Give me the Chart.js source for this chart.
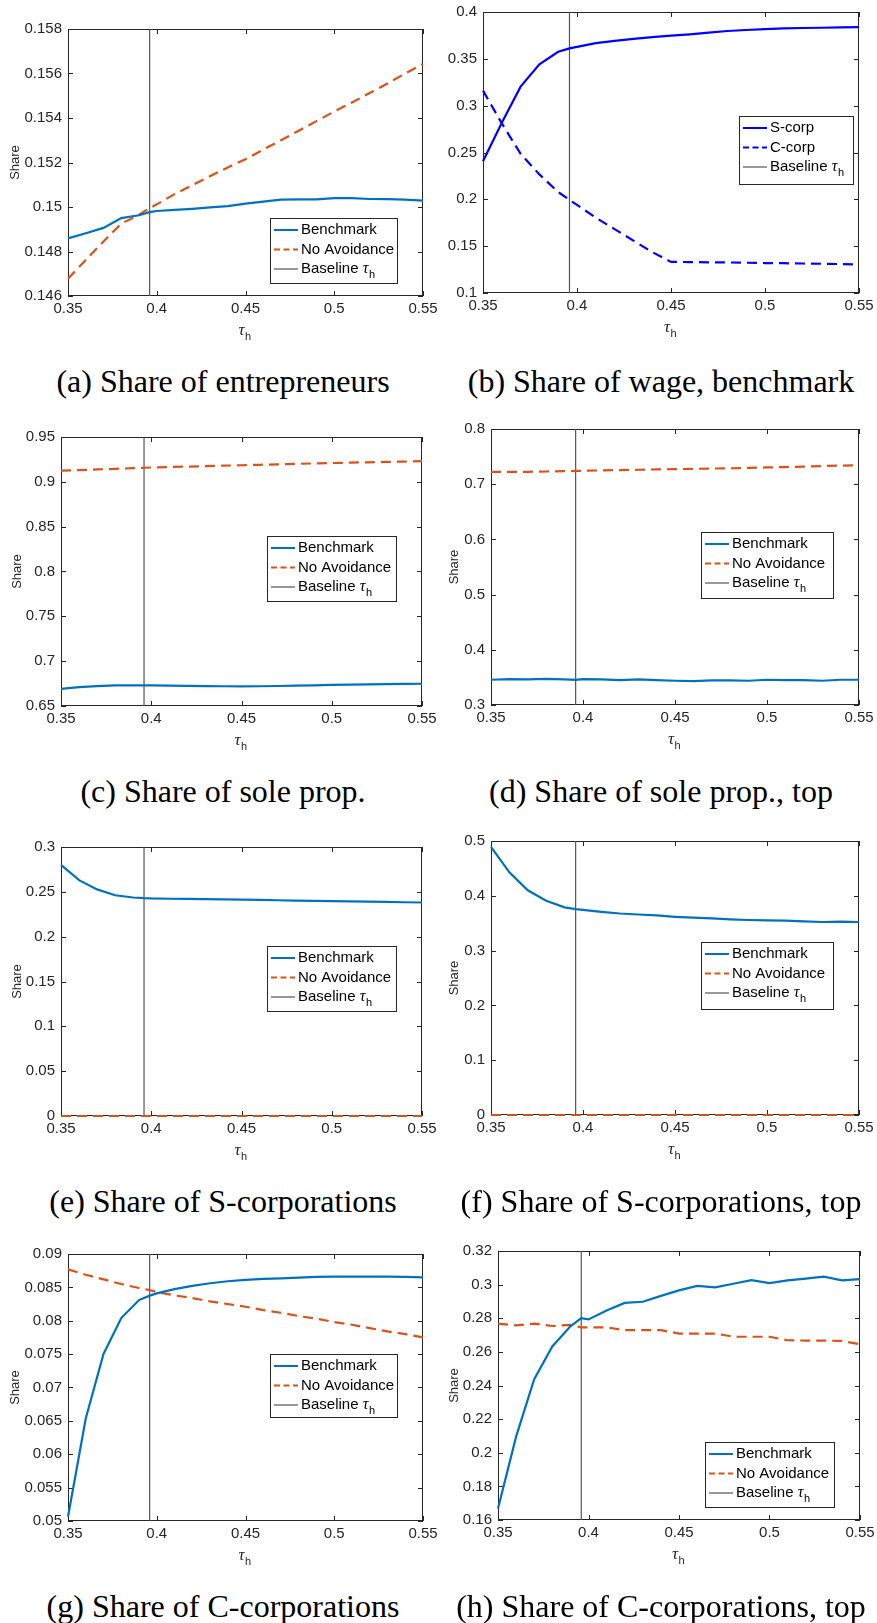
<!DOCTYPE html>
<html>
<head>
<meta charset="utf-8">
<script src="https://cdn.jsdelivr.net/npm/chart.js@4.4.0/dist/chart.umd.min.js"></script>
<style>
html, body { margin: 0; padding: 0; background: #fff; }
#page { position: relative; width: 877px; height: 1623px; overflow: hidden; background: #fff; }
.panel { position: absolute; }
.caption { position: absolute; font-family: "Liberation Serif", "Times New Roman", serif; font-size: 32px; line-height: 1; color: #000; white-space: nowrap; transform: translate(-50%, -50%); }
</style>
</head>
<body>
<div id="page"></div>
<script>
// tau_h grid (the baseline 0.396 is one of the grid points)
const tau = [0.35, 0.36, 0.37, 0.38, 0.39, 0.396, 0.40, 0.41, 0.42, 0.43, 0.44, 0.45, 0.46, 0.47, 0.48, 0.49, 0.50, 0.51, 0.52, 0.53, 0.54, 0.55];
const baselineTau = 0.396;
const xTicks = [0.35, 0.4, 0.45, 0.5, 0.55];

// (a) share of entrepreneurs
const entreBench = [0.14859, 0.14882, 0.14906, 0.14950, 0.14963, 0.14977, 0.14982, 0.14987, 0.14992, 0.14998, 0.15004, 0.15015, 0.15024, 0.15033, 0.15034, 0.15034, 0.15040, 0.15040, 0.15036, 0.15035, 0.15033, 0.15029];
const entreNoAvoid = [0.14678, 0.14762, 0.14845, 0.14925, 0.14965, 0.14995, 0.15012, 0.15058, 0.15098, 0.15138, 0.15178, 0.15215, 0.15258, 0.15300, 0.15343, 0.15386, 0.15429, 0.15470, 0.15512, 0.15555, 0.15600, 0.15643];
const entreTicks = [0.146, 0.148, 0.15, 0.152, 0.154, 0.156, 0.158];

// (b) share of wage, benchmark
const wageScorp = [0.2406, 0.2818, 0.3203, 0.3441, 0.3575, 0.3612, 0.3628, 0.3668, 0.3692, 0.3713, 0.3731, 0.3748, 0.3762, 0.3780, 0.3797, 0.3808, 0.3818, 0.3825, 0.3829, 0.3832, 0.3836, 0.3839];
const wageCcorp = [0.3161, 0.2811, 0.2486, 0.2266, 0.2077, 0.1995, 0.1940, 0.1804, 0.1682, 0.1559, 0.1437, 0.1332, 0.1330, 0.1328, 0.1326, 0.1323, 0.1320, 0.1318, 0.1315, 0.1312, 0.1309, 0.1305];
const wageTicks = [0.1, 0.15, 0.2, 0.25, 0.3, 0.35, 0.4];

// (c) share of sole prop.
const soleBench = [0.6690, 0.6710, 0.6722, 0.6729, 0.6731, 0.6731, 0.6730, 0.6728, 0.6725, 0.6722, 0.6720, 0.6719, 0.6720, 0.6723, 0.6727, 0.6731, 0.6735, 0.6738, 0.6741, 0.6744, 0.6746, 0.6748];
const soleNoAvoid = [0.9124, 0.9131, 0.9138, 0.9145, 0.9152, 0.9157, 0.9160, 0.9165, 0.9170, 0.9175, 0.9180, 0.9185, 0.9190, 0.9195, 0.9200, 0.9205, 0.9210, 0.9214, 0.9218, 0.9222, 0.9226, 0.9230];
const soleTicks = [0.65, 0.7, 0.75, 0.8, 0.85, 0.9, 0.95];

// (d) share of sole prop., top
const soleTopBench = [0.3457, 0.3469, 0.3463, 0.3475, 0.3463, 0.3457, 0.3469, 0.3463, 0.3451, 0.3463, 0.3451, 0.3439, 0.3433, 0.3445, 0.3445, 0.3439, 0.3457, 0.3451, 0.3451, 0.3439, 0.3457, 0.3457];
const soleTopNoAvoid = [0.7222, 0.7224, 0.7225, 0.7230, 0.7236, 0.7240, 0.7244, 0.7250, 0.7256, 0.7262, 0.7268, 0.7273, 0.7278, 0.7283, 0.7289, 0.7295, 0.7303, 0.7311, 0.7319, 0.7328, 0.7337, 0.7345];
const soleTopTicks = [0.3, 0.4, 0.5, 0.6, 0.7, 0.8];

// (e) share of S-corporations
const scorpBench = [0.2800, 0.2630, 0.2527, 0.2462, 0.2437, 0.2429, 0.2426, 0.2423, 0.2421, 0.2419, 0.2417, 0.2414, 0.2410, 0.2406, 0.2403, 0.2399, 0.2396, 0.2393, 0.2390, 0.2387, 0.2384, 0.2381];
const scorpNoAvoid = [0, 0, 0, 0, 0, 0, 0, 0, 0, 0, 0, 0, 0, 0, 0, 0, 0, 0, 0, 0, 0, 0];
const scorpTicks = [0, 0.05, 0.1, 0.15, 0.2, 0.25, 0.3];

// (f) share of S-corporations, top
const scorpTopBench = [0.4893, 0.4428, 0.4100, 0.3910, 0.3790, 0.3757, 0.3743, 0.3707, 0.3677, 0.3659, 0.3641, 0.3617, 0.3600, 0.3588, 0.3570, 0.3558, 0.3552, 0.3546, 0.3534, 0.3522, 0.3528, 0.3522];
const scorpTopNoAvoid = [0, 0, 0, 0, 0, 0, 0, 0, 0, 0, 0, 0, 0, 0, 0, 0, 0, 0, 0, 0, 0, 0];
const scorpTopTicks = [0, 0.1, 0.2, 0.3, 0.4, 0.5];

// (g) share of C-corporations
const ccorpBench = [0.05064, 0.06536, 0.07502, 0.0804, 0.0831, 0.08376, 0.0841, 0.08474, 0.08523, 0.08562, 0.08592, 0.08612, 0.08626, 0.08636, 0.08646, 0.08656, 0.0866, 0.08662, 0.08662, 0.0866, 0.08658, 0.0865];
const ccorpNoAvoid = [0.0877, 0.0869, 0.0862, 0.0855, 0.0849, 0.0846, 0.0843, 0.0838, 0.0834, 0.0829, 0.0825, 0.0821, 0.0816, 0.0812, 0.0807, 0.0803, 0.0798, 0.0794, 0.0789, 0.0784, 0.0780, 0.0775];
const ccorpTicks = [0.05, 0.055, 0.06, 0.065, 0.07, 0.075, 0.08, 0.085, 0.09];

// (h) share of C-corporations, top
const ccorpTopBench = [0.1668, 0.2096, 0.2437, 0.2632, 0.2752, 0.2801, 0.2793, 0.2846, 0.2891, 0.2898, 0.2933, 0.2966, 0.2992, 0.2984, 0.3005, 0.3027, 0.3009, 0.3025, 0.3036, 0.3048, 0.3025, 0.3033];
const ccorpTopNoAvoid = [0.2768, 0.2758, 0.2768, 0.2754, 0.2760, 0.2746, 0.2745, 0.2746, 0.2729, 0.2729, 0.2729, 0.2709, 0.2709, 0.2709, 0.2690, 0.2690, 0.2690, 0.2669, 0.2667, 0.2667, 0.2665, 0.2645];
const ccorpTopTicks = [0.16, 0.18, 0.2, 0.22, 0.24, 0.26, 0.28, 0.3, 0.32];

const BLUE = '#0072BD', ORANGE = '#D95319', PURE_BLUE = '#0000FF', VLINE = '#555555';
const AXIS = '#262626';
const SANS = '"Liberation Sans", Arial, Helvetica, sans-serif';
const SERIF = '"Liberation Serif", "Times New Roman", serif';

const stdSeries = (bench, noAvoid) => [
    { label: 'Benchmark', values: bench, color: BLUE, dashed: false },
    { label: 'No Avoidance', values: noAvoid, color: ORANGE, dashed: true }
];

// page layout: plot area [left, top, right, bottom] and legend box [x, y, w, h] in page pixels
const panels = [
    { col: 0,   area: [68, 24, 423, 296],    yTicks: entreTicks,    series: stdSeries(entreBench, entreNoAvoid), ylabelX: 15,  legend: [270, 218, 127, 65],  caption: '(a) Share of entrepreneurs', capX: 223, capY: 381 },
    { col: 437, area: [483, 7, 859, 293],    yTicks: wageTicks,     series: [
        { label: 'S-corp', values: wageScorp, color: PURE_BLUE, dashed: false },
        { label: 'C-corp', values: wageCcorp, color: PURE_BLUE, dashed: true }
      ], ylabelX: null, legend: [739, 116, 114, 68], caption: '(b) Share of wage, benchmark', capX: 661, capY: 381 },
    { col: 0,   area: [61, 432, 422, 706],   yTicks: soleTicks,     series: stdSeries(soleBench, soleNoAvoid), ylabelX: 17,  legend: [267, 536, 129, 65],  caption: '(c) Share of sole prop.', capX: 223, capY: 791 },
    { col: 437, area: [491, 424, 859, 705],  yTicks: soleTopTicks,  series: stdSeries(soleTopBench, soleTopNoAvoid), ylabelX: 454, legend: [701, 532, 132, 66], caption: '(d) Share of sole prop., top', capX: 661, capY: 791 },
    { col: 0,   area: [61, 842, 422, 1116],  yTicks: scorpTicks,    series: stdSeries(scorpBench, scorpNoAvoid), ylabelX: 17,  legend: [267, 946, 129, 65],  caption: '(e) Share of S-corporations', capX: 223, capY: 1201 },
    { col: 437, area: [491, 836, 859, 1115], yTicks: scorpTopTicks, series: stdSeries(scorpTopBench, scorpTopNoAvoid), ylabelX: 454, legend: [701, 942, 132, 67], caption: '(f) Share of S-corporations, top', capX: 661, capY: 1201 },
    { col: 0,   area: [68, 1249, 423, 1521], yTicks: ccorpTicks,    series: stdSeries(ccorpBench, ccorpNoAvoid), ylabelX: 15,  legend: [270, 1354, 127, 63], caption: '(g) Share of C-corporations', capX: 223, capY: 1606 },
    { col: 437, area: [498, 1246, 860, 1520], yTicks: ccorpTopTicks, series: stdSeries(ccorpTopBench, ccorpTopNoAvoid), ylabelX: 454, legend: [705, 1442, 129, 65], caption: '(h) Share of C-corporations, top', capX: 661, capY: 1606 }
];

const PAD_TOP = 10, PAD_RIGHT = 20, X_AXIS_H = 50, TICK_LEN = 5;
const LINE_DASH = [10, 6];

Chart.defaults.font.family = SANS;
Chart.defaults.color = AXIS;

// tau with subscript h
function drawTauH(ctx, x, y, tauSize, subSize, color) {
    ctx.fillStyle = color;
    ctx.textBaseline = 'middle';
    ctx.textAlign = 'left';
    ctx.font = `italic ${tauSize}px ${SERIF}`;
    ctx.fillText('\u03C4', x, y);
    const w = ctx.measureText('\u03C4').width;
    ctx.font = `${subSize}px ${SANS}`;
    ctx.fillText('h', x + w + 0.5, y + 6);
}

const framePlugin = {
    id: 'matlabFrame',
    beforeDatasetsDraw(chart) {
        const { ctx, chartArea: a, scales: { x, y } } = chart;
        ctx.save();
        ctx.strokeStyle = AXIS;
        ctx.lineWidth = 1;
        ctx.strokeRect(a.left + 0.5, a.top + 0.5, a.right - a.left - 1, a.bottom - a.top - 1);
        ctx.beginPath();
        x.ticks.forEach(t => {
            const px = Math.round(x.getPixelForValue(t.value)) + 0.5;
            ctx.moveTo(px, a.bottom); ctx.lineTo(px, a.bottom - TICK_LEN);
            ctx.moveTo(px, a.top); ctx.lineTo(px, a.top + TICK_LEN);
        });
        y.ticks.forEach(t => {
            const py = Math.round(y.getPixelForValue(t.value)) + 0.5;
            ctx.moveTo(a.left, py); ctx.lineTo(a.left + TICK_LEN, py);
            ctx.moveTo(a.right, py); ctx.lineTo(a.right - TICK_LEN, py);
        });
        ctx.stroke();
        ctx.restore();
    },
    afterDraw(chart) {
        const { ctx, chartArea: a } = chart;
        const p = chart.options.plugins.matlabFrame;
        ctx.save();
        // x-axis label
        const cx = (a.left + a.right) / 2;
        drawTauH(ctx, cx - 7, a.bottom + 35, 17, 11, AXIS);

        // legend box
        const [lx, ly, lw, lh] = p.legend;
        ctx.fillStyle = '#fff';
        ctx.fillRect(lx, ly, lw, lh);
        ctx.strokeStyle = AXIS;
        ctx.lineWidth = 1;
        ctx.strokeRect(lx + 0.5, ly + 0.5, lw, lh);
        const rows = p.series.map(s => ({ label: s.label, color: s.color, dashed: s.dashed, width: 2 }));
        rows.push({ label: 'Baseline', color: VLINE, dashed: false, width: 1.2, tau: true });
        rows.forEach((r, i) => {
            const ry = ly + 12 + i * 19.5;
            ctx.beginPath();
            ctx.strokeStyle = r.color;
            ctx.lineWidth = r.width;
            ctx.setLineDash(r.dashed ? [6, 3.5] : []);
            ctx.moveTo(lx + 4, ry); ctx.lineTo(lx + 28, ry);
            ctx.stroke();
            ctx.setLineDash([]);
            ctx.fillStyle = '#000';
            ctx.font = `15px ${SANS}`;
            ctx.textAlign = 'left';
            ctx.textBaseline = 'middle';
            ctx.fillText(r.label, lx + 31, ry);
            if (r.tau) {
                const w = ctx.measureText(r.label + ' ').width;
                drawTauH(ctx, lx + 31 + w, ry, 16, 11, '#000');
            }
        });
        ctx.restore();
    }
};

const page = document.getElementById('page');

panels.forEach(p => {
    const [l, t, r, b] = p.area;
    const canvasLeft = p.col;
    const canvasTop = t - PAD_TOP;
    const w = r + PAD_RIGHT - canvasLeft;
    const h = b - t + PAD_TOP + X_AXIS_H;

    const div = document.createElement('div');
    div.className = 'panel';
    div.style.left = canvasLeft + 'px';
    div.style.top = canvasTop + 'px';
    div.style.width = w + 'px';
    div.style.height = h + 'px';
    const canvas = document.createElement('canvas');
    canvas.width = w;
    canvas.height = h;
    canvas.style.width = w + 'px';
    canvas.style.height = h + 'px';
    div.appendChild(canvas);
    page.appendChild(div);

    const cap = document.createElement('div');
    cap.className = 'caption';
    cap.style.left = p.capX + 'px';
    cap.style.top = p.capY + 'px';
    cap.textContent = p.caption;
    page.appendChild(cap);

    const yMin = p.yTicks[0], yMax = p.yTicks[p.yTicks.length - 1];
    const datasets = p.series.map(s => ({
        label: s.label,
        data: tau.map((x, i) => ({ x, y: s.values[i] })),
        borderColor: s.color,
        borderWidth: 2.2,
        borderDash: s.dashed ? LINE_DASH : [],
        pointRadius: 0,
        tension: 0,
        fill: false,
        clip: false
    }));
    datasets.push({
        label: 'Baseline',
        data: [{ x: baselineTau, y: yMin }, { x: baselineTau, y: yMax }],
        borderColor: VLINE,
        borderWidth: 1.2,
        pointRadius: 0,
        fill: false
    });

    const titleLH = 13 * 1.2;
    new Chart(canvas, {
        type: 'line',
        data: { datasets },
        options: {
            responsive: false,
            animation: false,
            events: [],
            layout: { padding: { top: PAD_TOP, right: PAD_RIGHT, left: 0, bottom: 0 } },
            scales: {
                x: {
                    type: 'linear', min: 0.35, max: 0.55,
                    afterBuildTicks: s => { s.ticks = xTicks.map(v => ({ value: v })); },
                    afterFit: s => { s.height = X_AXIS_H; },
                    grid: { display: false, drawTicks: false },
                    border: { display: false },
                    ticks: { padding: 4, autoSkip: false, maxRotation: 0, color: AXIS, font: { size: 15 }, callback: v => String(v) }
                },
                y: {
                    type: 'linear', min: yMin, max: yMax,
                    afterBuildTicks: s => { s.ticks = p.yTicks.map(v => ({ value: v })); },
                    afterFit: s => { s.width = l - canvasLeft; },
                    grid: { display: false, drawTicks: false },
                    border: { display: false },
                    ticks: { padding: 6, autoSkip: false, color: AXIS, font: { size: 15 }, callback: v => String(v) },
                    title: {
                        display: p.ylabelX !== null,
                        text: 'Share',
                        color: AXIS,
                        font: { size: 13 },
                        padding: { top: p.ylabelX !== null ? p.ylabelX - canvasLeft - titleLH / 2 : 0, bottom: 0 }
                    }
                }
            },
            plugins: {
                legend: { display: false },
                tooltip: { enabled: false },
                matlabFrame: {
                    legend: [p.legend[0] - canvasLeft, p.legend[1] - canvasTop, p.legend[2], p.legend[3]],
                    series: p.series
                }
            }
        },
        plugins: [framePlugin]
    });
});
</script>
</body>
</html>
